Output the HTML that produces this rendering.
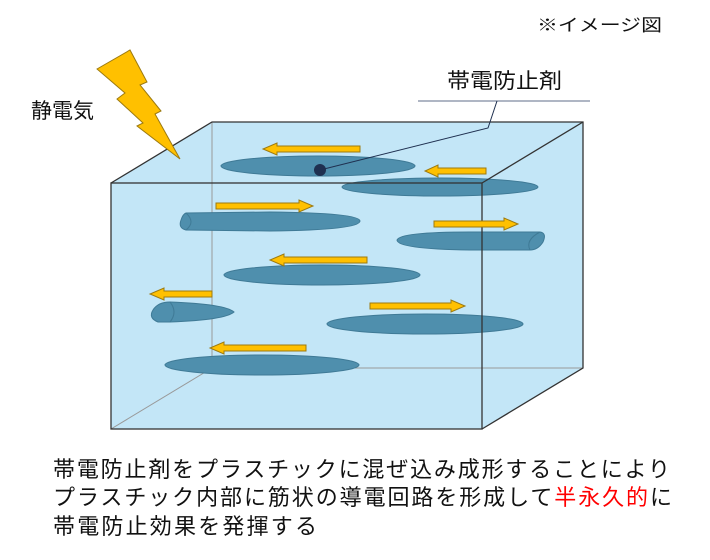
<!DOCTYPE html>
<html><head><meta charset="utf-8"><style>
html,body{margin:0;padding:0;background:#fff;}
svg{display:block;}
text{font-family:"Liberation Sans","Noto Sans CJK JP",sans-serif;fill:#111;}
</style></head><body>
<svg width="710" height="560" viewBox="0 0 710 560" xmlns="http://www.w3.org/2000/svg">
<text x="537" y="31" font-size="17" textLength="125" lengthAdjust="spacingAndGlyphs">※イメージ図</text>
<text x="447" y="88" font-size="21" textLength="115" lengthAdjust="spacingAndGlyphs">帯電防止剤</text>
<line x1="418" y1="101" x2="590" y2="101" stroke="#7f8aa0" stroke-width="1.2"/>
<text x="31" y="118" font-size="21">静電気</text>
<polygon points="111,183 212,122 583,122 583,368 482,429 111,429" fill="#c3e6f7"/>
<line x1="212" y1="122" x2="212" y2="368" stroke="#999" stroke-width="1"/>
<line x1="212" y1="368" x2="583" y2="368" stroke="#999" stroke-width="1"/>
<line x1="212" y1="368" x2="111" y2="429" stroke="#999" stroke-width="1"/>
<g fill="#4f8fad" stroke="#3f7a96" stroke-width="1">
<ellipse cx="318" cy="166" rx="97" ry="10"/>
<ellipse cx="440" cy="187" rx="98" ry="9"/>
<path d="M186,213 L270,212 Q360,213 360,221 Q360,230 270,231 L186,230 Q178,228 181,220 Q183,214 186,213Z"/>
<path d="M397,240 Q400,232 470,232 L540,232 Q547,233 543,242 Q538,250 530,250 L470,250 Q397,249 397,240Z"/>
<ellipse cx="322" cy="275" rx="98" ry="10"/>
<path d="M170,302 Q225,304 234,312 Q225,320 170,322 L158,322 Q148,318 153,310 Q158,302 170,302Z"/>
<ellipse cx="425" cy="324" rx="98" ry="10"/>
<ellipse cx="262" cy="365" rx="97" ry="10"/>
</g>
<g fill="none" stroke="#3f7a96" stroke-width="1">
<path d="M186,213 Q196,222 186,230"/>
<path d="M540,232 Q525,240 530,250"/>
<path d="M170,302 Q178,312 170,322"/>
</g>
<rect x="111" y="183" width="371" height="246" fill="none" stroke="#333" stroke-width="1.3"/>
<polyline points="111,183 212,122 583,122 583,368 482,429" fill="none" stroke="#333" stroke-width="1.3"/>
<line x1="482" y1="183" x2="583" y2="122" stroke="#333" stroke-width="1.3"/>
<g fill="#ffc000" stroke="#9c7a10" stroke-width="1">
<polygon points="360,146 277,146 277,143 263,149 277,155 277,152 360,152"/>
<polygon points="486,168 438,168 438,165 425,171 438,177 438,174 486,174"/>
<polygon points="216,203 299,203 299,200 313,206 299,212 299,209 216,209"/>
<polygon points="434,221 504,221 504,218 518,224 504,230 504,227 434,227"/>
<polygon points="367,257 284,257 284,254 270,260 284,266 284,263 367,263"/>
<polygon points="212,291 164,291 164,288 150,294 164,300 164,297 212,297"/>
<polygon points="370,303 451,303 451,300 465,306 451,312 451,309 370,309"/>
<polygon points="306,345 224,345 224,342 210,348 224,354 224,351 306,351"/>
</g>
<polygon points="97,69 130,50 147,82 140,85 161,111 155,114 180,159 137,126 143,123 117,99 125,93" fill="#ffc000" stroke="#9c7a10" stroke-width="1"/>
<polyline points="320,170 488,128 497,101" fill="none" stroke="#1f3050" stroke-width="1"/>
<circle cx="320" cy="170" r="6" fill="#1f3050"/>
<text x="53" y="477" font-size="22" textLength="617" lengthAdjust="spacing">帯電防止剤をプラスチックに混ぜ込み成形することにより</text>
<text x="53" y="505" font-size="22" textLength="619" lengthAdjust="spacing">プラスチック内部に筋状の導電回路を形成して<tspan fill="#ff0000">半永久的</tspan>に</text>
<text x="53" y="534" font-size="22" textLength="264" lengthAdjust="spacing">帯電防止効果を発揮する</text>
</svg>
</body></html>
